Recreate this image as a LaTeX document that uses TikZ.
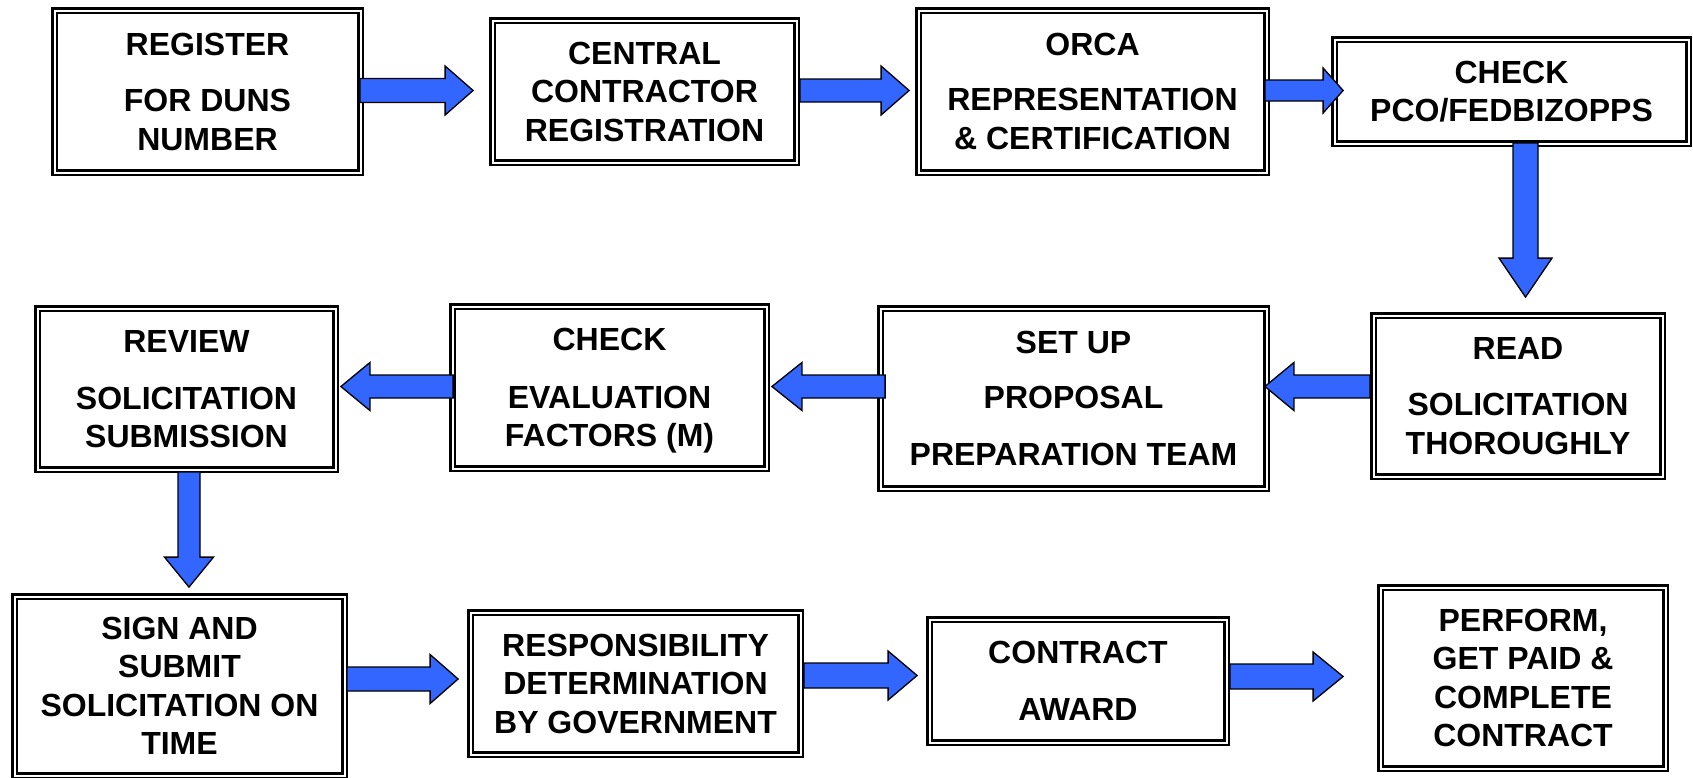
\documentclass[tikz,border=0pt]{standalone}
\usepackage{fontspec}
\setmainfont{Liberation Sans}
\usetikzlibrary{calc}
\definecolor{arrowblue}{HTML}{3366FF}
\newcommand\boxfont{\bfseries\fontsize{32}{38.5}\selectfont}
% right-pointing block arrow: #1 start, #2 tip, #3 shaft half, #4 head half, #5 head length
\newcommand\rarrow[5]{\path[barrow] let \p1=(#1), \p2=(#2) in
  (\x1,{\y1+#3pt}) -- ({\x2-#5pt},{\y1+#3pt}) -- ({\x2-#5pt},{\y1+#4pt}) -- (\x2,\y1)
  -- ({\x2-#5pt},{\y1-#4pt}) -- ({\x2-#5pt},{\y1-#3pt}) -- (\x1,{\y1-#3pt}) -- cycle;}
\newcommand\larrow[5]{\path[barrow] let \p1=(#1), \p2=(#2) in
  (\x1,{\y1+#3pt}) -- ({\x2+#5pt},{\y1+#3pt}) -- ({\x2+#5pt},{\y1+#4pt}) -- (\x2,\y1)
  -- ({\x2+#5pt},{\y1-#4pt}) -- ({\x2+#5pt},{\y1-#3pt}) -- (\x1,{\y1-#3pt}) -- cycle;}
\newcommand\darrow[5]{\path[barrow] let \p1=(#1), \p2=(#2) in
  ({\x1+#3pt},\y1) -- ({\x1+#3pt},{\y2+#5pt}) -- ({\x1+#4pt},{\y2+#5pt}) -- (\x1,\y2)
  -- ({\x1-#4pt},{\y2+#5pt}) -- ({\x1-#3pt},{\y2+#5pt}) -- ({\x1-#3pt},\y1) -- cycle;}
\begin{document}
\begin{tikzpicture}[x=1pt,y=-1pt,
  box/.style={draw, line width=2.4pt, double=white, double distance=2pt,
    outer sep=3.4pt, inner sep=0pt, align=center, font=\boxfont},
  barrow/.style={draw=black, fill=arrowblue, line width=1.3pt, line join=miter}]
\fill[white] (0,0) rectangle (1693,777);
\useasboundingbox (0,0) rectangle (1693,777);
% row 1
\node[box, minimum width=306pt, minimum height=162pt] (b1) at (207.5,91.5) {REGISTER\\[18pt]FOR DUNS\\NUMBER};
\node[box, minimum width=304pt, minimum height=142pt] (b2) at (644.5,91.5) {CENTRAL\\CONTRACTOR\\REGISTRATION};
\node[box, minimum width=348pt, minimum height=162pt] (b3) at (1092.5,91.5) {ORCA\\[16.5pt]REPRESENTATION\\\& CERTIFICATION};
\node[box, minimum width=354pt, minimum height=104pt] (b4) at (1511.5,91.5) {CHECK\\PCO/FEDBIZOPPS};
% row 2
\node[box, minimum width=298pt, minimum height=161pt] (b5) at (186.5,389) {REVIEW\\[18.5pt]SOLICITATION\\SUBMISSION};
\node[box, minimum width=314pt, minimum height=162pt] (b6) at (609.5,387.5) {CHECK\\[19.5pt]EVALUATION\\\smash{FACTORS (M)}};
\node[box, minimum width=386pt, minimum height=180pt] (b7) at (1073.5,398.5) {SET UP\\[16.5pt]PROPOSAL\\[18pt]PREPARATION TEAM};
\node[box, minimum width=289pt, minimum height=161pt] (b8) at (1518,396) {READ\\[17.5pt]SOLICITATION\\THOROUGHLY};
% row 3
\node[box, minimum width=330pt, minimum height=179pt] (b9) at (179.5,686) {SIGN AND\\SUBMIT\\SOLICITATION ON\\TIME};
\node[box, minimum width=330pt, minimum height=142pt] (b10) at (635.5,683.5) {RESPONSIBILITY\\DETERMINATION\\BY GOVERNMENT};
\node[box, minimum width=297pt, minimum height=123pt] (b11) at (1078,681) {CONTRACT\\[18pt]AWARD};
\node[box, minimum width=285pt, minimum height=181pt] (b12) at (1523,678) {PERFORM,\\GET PAID \&\\COMPLETE\\CONTRACT};
% arrows
\rarrow{$(b1.east)+(-4,-1)$}{$(b2.west)+(-16,0)$}{12}{24.5}{28}
\rarrow{$(b2.east)+(0,-1)$}{$(b3.west)+(-6,0)$}{11.5}{24.5}{28}
\rarrow{$(b3.east)+(-5,-1)$}{$(b4.west)+(12,0)$}{10.5}{22.5}{20}
\darrow{$(b4.south)+(14,-4)$}{$(b8.north)+(7.5,-15)$}{12.5}{26.5}{39}
\larrow{$(b8.west)+(0,-9.5)$}{$(b7.east)+(-5,0)$}{11.5}{24}{29}
\larrow{$(b7.west)+(8,-12)$}{$(b6.east)+(2,0)$}{11.5}{24}{30}
\larrow{$(b6.west)+(4,-1)$}{$(b5.east)+(2,0)$}{11.5}{24}{29}
\darrow{$(b5.south)+(2.5,-1)$}{$(b9.north)+(9.5,-6)$}{11}{24.5}{30}
\rarrow{$(b9.east)+(-1,-7)$}{$(b10.west)+(-9,0)$}{12}{24.5}{28}
\rarrow{$(b10.east)+(0,-8)$}{$(b11.west)+(-9,0)$}{12.5}{24.5}{29}
\rarrow{$(b11.east)+(0,-4.5)$}{$(b12.west)+(-34,0)$}{12.5}{24.5}{30}
\end{tikzpicture}
\end{document}
